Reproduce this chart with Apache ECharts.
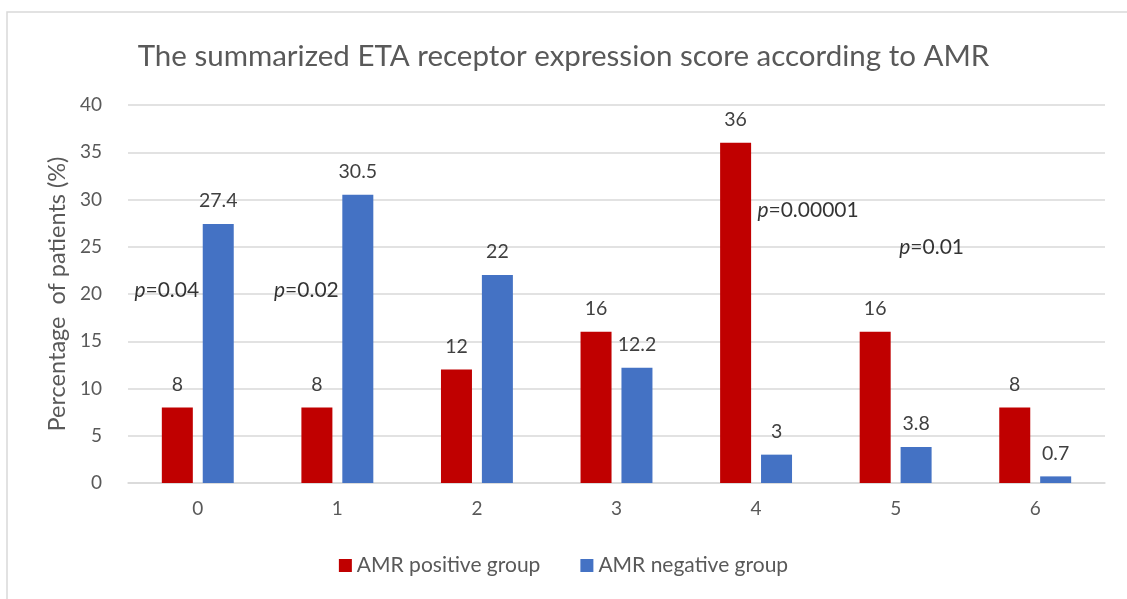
<!DOCTYPE html>
<html>
<head>
<meta charset="utf-8">
<script src="https://cdn.jsdelivr.net/npm/echarts@6/dist/echarts.min.js"></script>
<style>
  html, body { margin: 0; padding: 0; background: #fff; }
  #main { width: 1127px; height: 599px; }
</style>
</head>
<body>
<div id="main"></div>
<script>
// categories (score)
var categories = ['0', '1', '2', '3', '4', '5', '6'];
// series values (%)
var positiveGroup = [8, 8, 12, 16, 36, 16, 8];
var negativeGroup = [27.4, 30.5, 22, 12.2, 3, 3.8, 0.7];
// p-value notes: [category index, value height, text]
var pNotes = [
  [0, 20.4, '0.04'],
  [1, 20.4, '0.02'],
  [4, 28.9, '0.00001'],
  [5, 24.9, '0.01']
];
var noteOffsets = [[-31, 0], [-31, 0], [52, 0], [36, 0]];

var font = 'Lato, "Open Sans", sans-serif';
var chart = echarts.init(document.getElementById('main'));

chart.setOption({
  animation: false,
  textStyle: { fontFamily: font },
  graphic: [{
    type: 'rect',
    shape: { x: 7, y: 12, width: 1200, height: 700 },
    style: { fill: 'none', stroke: '#d9d9d9', lineWidth: 1.5 },
    silent: true
  }],
  title: {
    text: 'The summarized ETA receptor expression score according to AMR',
    left: 'center',
    top: 36,
    textStyle: { fontFamily: font, fontSize: 29.5, fontWeight: 'normal', color: '#595959' }
  },
  legend: {
    bottom: 18,
    left: 'center',
    itemWidth: 13,
    itemHeight: 13,
    itemGap: 40,
    icon: 'rect',
    data: ['AMR positive group', 'AMR negative group'],
    textStyle: { fontFamily: font, fontSize: 21, color: '#595959' }
  },
  grid: { left: 128, right: 22, top: 105, bottom: 116 },
  xAxis: {
    type: 'category',
    data: categories,
    axisTick: { show: false },
    axisLine: { lineStyle: { color: '#d9d9d9', width: 1.5 } },
    axisLabel: { fontFamily: font, fontSize: 19, color: '#595959', margin: 16 }
  },
  yAxis: {
    type: 'value',
    min: 0,
    max: 40,
    interval: 5,
    name: 'Percentage  of patients (%)',
    nameLocation: 'middle',
    nameGap: 58,
    nameTextStyle: { fontFamily: font, fontSize: 23.5, color: '#595959' },
    axisLine: { show: false },
    axisTick: { show: false },
    axisLabel: { fontFamily: font, fontSize: 19, color: '#595959', margin: 26 },
    splitLine: { lineStyle: { color: '#d9d9d9', width: 1.5 } }
  },
  series: [{
    name: 'AMR positive group',
    type: 'bar',
    data: positiveGroup,
    barWidth: 31,
    barGap: '32%',
    itemStyle: { color: '#c00000' },
    label: { show: true, position: 'top', distance: 13, fontFamily: font, fontSize: 19.5, color: '#404040' }
  }, {
    name: 'AMR negative group',
    type: 'bar',
    data: negativeGroup,
    barWidth: 31,
    itemStyle: { color: '#4472c4' },
    label: { show: true, position: 'top', distance: 13, fontFamily: font, fontSize: 19.5, color: '#404040' }
  }, {
    type: 'scatter',
    symbolSize: 0,
    silent: true,
    data: pNotes.map(function (d, i) {
      return {
        value: [d[0], d[1]],
        label: {
          show: true,
          position: 'inside',
          offset: noteOffsets[i],
          formatter: '{p|p}{v|=' + d[2] + '}',
          rich: {
            p: { fontFamily: font, fontSize: 21, fontStyle: 'italic', color: '#000' },
            v: { fontFamily: font, fontSize: 21, color: '#000' }
          }
        }
      };
    })
  }]
});
</script>
</body>
</html>
